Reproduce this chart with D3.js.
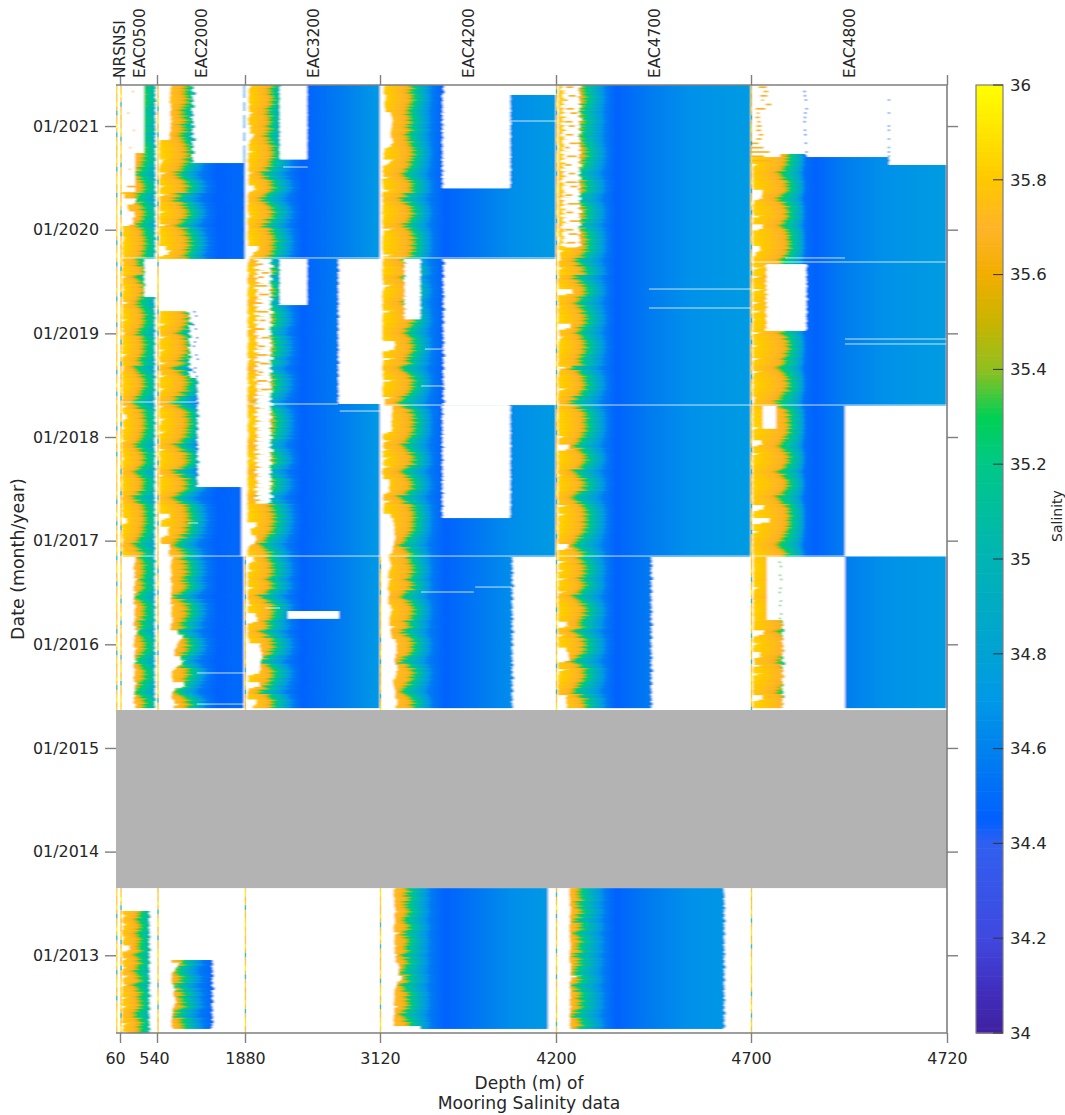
<!DOCTYPE html>
<html><head><meta charset="utf-8">
<script src="https://cdn.jsdelivr.net/npm/d3@7"></script>
<style>html,body{margin:0;padding:0;background:#fff}svg{display:block}text{font-family:"DejaVu Sans",sans-serif;fill:#262626}</style>
</head><body><svg id="c" width="1065" height="1115"></svg>
<script>
// ---------- axis content
const moorNames=["NRSNSI","EAC0500","EAC2000","EAC3200","EAC4200","EAC4700","EAC4800"];
const tickDepth=[60,540,1880,3120,4200,4700,4720];
const tickYears=[2013,2014,2015,2016,2017,2018,2019,2020,2021];
const cbTicks=[34,34.2,34.4,34.6,34.8,35,35.2,35.4,35.6,35.8,36];
// ---------- colour map (salinity -> colour)
const cmapS=[34,34.1,34.2,34.4,34.45,34.6,34.7,34.8,35,35.2,35.3,35.4,35.5,35.6,35.7,35.8,35.9,36];
const cmapC=["#4020a0","#4030c0","#4048e0","#3060f0","#0060ff","#0082ee","#0098e8","#00a2d4","#00b4b4","#00c888","#00d054","#90c020","#c8b400","#f2ae00","#ffb428","#ffc800","#ffe400","#ffff00"];
// ---------- mean salinity profiles per mooring (depth m / salinity)
const depthsP1=[0,44,175,263,336,438,511,540];
const saltP1=[35.84,35.82,35.74,35.66,35.3,35.1,34.95,34.9];
const depthsP2=[0,64,278,490,620,726,855,1025,1300,1880];
const saltP2=[35.84,35.82,35.76,35.66,35.3,35.1,34.85,34.56,34.46,34.5];
const depthsP3=[0,70,300,485,600,716,878,1086,1317,2195,3120];
const saltP3=[35.84,35.82,35.75,35.66,35.3,35.1,34.85,34.56,34.46,34.57,34.72];
const depthsP4=[0,95,358,620,740,860,1030,1240,1551,2386,3100,4200];
const saltP4=[35.84,35.82,35.75,35.66,35.3,35.1,34.85,34.56,34.46,34.56,34.65,34.73];
const depthsP5=[0,72,338,530,660,780,985,1210,1447,2265,3229,4700];
const saltP5=[35.84,35.82,35.75,35.66,35.3,35.1,34.85,34.56,34.46,34.57,34.67,34.73];
const depthsP6=[0,96,457,746,867,1011,1180,1300,1541,2263,3226,4720];
const saltP6=[35.84,35.82,35.75,35.66,35.3,35.1,34.85,34.52,34.46,34.58,34.67,34.74];
// ---------- half-monthly heave of the upper ocean (m), 2021.4 back to 2015.4
const heave=[60,40,80,100,60,-20,-60,10,40,-40,10,-80,-40,20,100,120,110,60,20,-80,
-220,-100,40,90,70,-150,-260,-60,50,100,80,-30,-180,20,90,130,150,140,100,30,
-200,-120,60,100,-240,-90,70,110,90,-60,-180,-40,60,110,120,70,-50,-150,30,90,
110,100,40,-80,-30,-300,-120,40,100,110,60,-60,-200,-350,-160,60,110,130,140,130,
90,30,-100,-230,-60,80,120,100,-40,-280,-100,60,90,50,-120,-320,-150,60,120,140,
150,140,110,60,-40,-160,-300,-120,30,-60,40,90,100,60,-30,80,60,-100,-280,-60,
80,120,100,40,-80,-20,-260,-80,70,110,100,40,-160,-290,-60,90,110,70,-50,-140,
-280,-60,90,120,60];
// same, 2013.65 back to 2012.25
const heaveEarly=[-60,-100,-40,-150,-80,-30,-120,-200,-50,-60,-220,-100,-60,-140,-60,-240,-120,-80,-200,-260,
-120,-80,-300,-160,-60,-100,-60,-40,-200,-280,-100,-40,-80,-120];
const heaveGain=[0,0.35,0.72,0.72,0.72,0.72,0.65];
// short-period streaks on top of the heave (m)
const streak=[40,-30,70,-60,10,90,-80,30,-20,60,-110,20,50,-40,80,-70,0,100,-50,30,-90,60,-10,40,-60,90,-30,10,-80];
// ---------- shallowest valid depth in each half-month row (m)
const gapP1=[0,0,0,0,0,0,0,0,0,0,0,0,0,0,0,0,0,0,0,0,0,0,0,0,0,
50,220,250,100,200,220,180,190,30,20,60,30,20,20,40,
20,30,20,15,80,20,20,60,15,20,120,20,25,20,90,15,20,70,20,15,
30,15,100,20,15,60,20,15,20,20,15,30,15,20,110,20,80,90,20,60,
15,20,70,15,20,15,50,15,15,20,15,15,20,15,15,15,20,15,15,20,
90,100,15,15,15,60,15,20,15,
210,230,190,220,200,240,210,190,230,200,190,220,210,200,230,190,210,260,220,200,190,230,210,200,240,190,220,200,190,230,210,200,220,190,210,230];
const gapP2=[300,270,290,260,280,300,270,290,320,280,300,260,300,
40,30,40,30,160,70,30,200,60,30,150,40,
230,40,50,30,180,30,40,240,30,30,40,30,170,280,230,
0,0,0,0,0,0,0,0,0,0,0,0,
30,60,30,200,30,40,230,30,30,160,40,30,220,30,60,190,
30,30,170,40,30,30,160,30,30,200,60,30,180,30,40,30,170,30,60,30,30,30,150,30,30,
30,40,30,30,30,30,250,250,60,240,220,240,60,260,270,240,
330,300,280,290,310,280,320,300,290,300,280,340,300,290,320,350,280,420,560,520,440,400,360,480,600,500,380,300,320,560,620,360,300,350,480,340];
const gapP3=[120,70,90,60,110,70,200,90,60,140,100,220,160,90,70,200,60,50,80,60,170,70,60,200,260,60,50,70,40,60,180,40,50,60,40,50,60,290,300,180,
100,60,40,80,60,40,120,50,40,90,40,60,40,110,40,50,160,40,60,100,40,50,40,130,60,40,70,40,50,120,40,60,40,80,
40,60,40,120,50,40,60,90,40,50,40,40,110,40,60,40,50,40,40,80,40,40,50,40,60,40,40,250,260,120,240,270,200,60,40,
180,230,60,220,40,70,40,200,50,40,60,150,40,230,280,270,40,60,40,80,330,350,380,400,360,340,380,300,60,320,340,60,40,250,280,160];
const gapP4=[100,70,150,120,90,110,240,280,300,270,260,240,290,310,250,90,70,330,200,50,60,250,40,60,300,40,50,60,50,40,60,40,50,350,70,50,40,40,50,300,
60,50,70,40,50,60,310,80,40,50,60,40,330,50,40,60,40,50,40,340,360,320,50,350,60,40,90,50,370,60,40,50,310,100,
280,300,270,280,260,290,270,50,240,60,200,50,230,60,240,40,60,210,220,200,230,60,270,80,60,240,300,320,340,330,360,350,320,300,280,
200,240,280,220,180,260,200,170,220,200,180,240,300,250,220,210,350,240,260,360,400,380,420,360,340,400,420,380,360,300,340,380,350,420,400,360];
const gapP5=[60,50,40,60,40,50,60,40,50,40,60,50,40,50,60,40,50,40,60,40,50,40,60,40,50,40,60,50,40,60,40,50,40,60,40,120,60,40,150,80,
120,40,190,40,60,30,40,380,420,30,40,60,30,40,30,330,340,60,200,60,40,30,30,60,30,350,60,40,30,30,260,40,30,50,
40,30,50,30,30,30,30,220,40,300,400,30,30,30,40,30,120,30,30,60,30,30,30,300,30,250,30,60,30,40,30,30,280,350,30,
30,240,40,200,30,250,40,30,230,30,60,30,30,40,30,250,300,30,200,30,30,230,280,300,320,30,280,60,30,30,30,30,260,230,250,300];
const gapP6=[0,0,0,0,0,0,0,0,0,0,0,0,0,0,0,0,0,0,
150,30,30,30,30,30,280,250,280,60,30,30,300,30,260,280,30,30,30,200,240,100,
40,30,260,30,220,30,30,300,30,30,200,30,280,30,60,30,30,240,30,30,150,30,30,220,30,30,260,30,30,60,30,30,120,60,
30,30,30,30,30,200,30,30,240,260,30,200,30,30,30,30,30,30,30,30,30,40,30,300,280,30,450,420,30,200,30,30,30,30,30,
60,40,50,60,40,50,40,200,50,40,60,40,50,40,60,50,40,300,280,30,200,30,200,280,60,300,30,250,30,30,30,30,260,280,30,40];
const gapEarlyP1=[0,0,0,0,0,20,90,20,100,30,15,90,20,130,130,20,90,20,100,15,120,30,90,20,15,90,15,80,20,15,15,90,30,90];
const gapEarlyP2=[0,0,0,0,0,0,0,0,0,0,0,0,0,0,0,0,0,500,420,360,300,300,340,400,340,380,420,360,320,320,300,300,320,350];
const gapEarlyP4=[330,310,360,330,350,420,330,360,340,310,450,340,330,380,340,400,360,420,470,430,520,500,400,360,330,350,320,420,330,340,310,320,330,330];
const gapEarlyP5=[320,310,330,320,340,350,320,330,320,310,340,320,330,350,330,320,310,340,350,340,600,350,320,340,330,340,320,360,330,320,330,320,320,330];
// ragged instrument-depth variation at the ends of the records
const edgeJag=[-1,1,0,2,-1,0,3,-2,1,0,-1,2,0,-2,1,4,-1,0,1,-2,2,0,-1,1,3,-1,0,-2,1,0,2,-1];
// ---------- data blocks [fromYear,toYear,depthTop,depthBottom,roughness(m)]
const blocksP1=[[2021.396,2020.74,350,511,6],[2020.74,2020.363,219,511,6],[2020.363,2019.727,15,511,6],
[2019.727,2019.35,15,350,6],[2019.35,2016.851,15,505,6],[2016.851,2015.385,190,505,6],[2013.426,2012.25,15,423,8]];
const blocksP2=[[2021.396,2020.865,256,748,22],[2020.865,2020.643,21,748,22],[2020.643,2019.727,21,1880,0],
[2019.215,2018.569,21,680,22],[2018.569,2017.517,21,855,14],[2017.517,2016.851,21,1800,0],[2016.851,2015.385,256,1850,0],[2012.954,2012.298,300,1175,14]];
const blocksP3=[[2021.396,2019.717,25,3120,0],[2019.717,2018.318,25,2148,10],[2018.318,2015.385,25,3120,0]];
const blocksP4=[[2021.396,2021.299,25,1503,14],[2021.299,2019.717,25,4200,0],[2019.717,2018.308,25,1503,14],[2018.308,2016.851,25,4200,0],[2016.851,2015.385,25,3150,14],[2013.648,2012.32,310,4010,0],[2012.34,2012.298,960,4010,0]];
const blocksP5=[[2021.396,2016.851,25,4700,0],[2016.851,2015.385,25,2290,14],[2013.648,2012.298,313,4050,12]];
const blocksP6=[[2020.73,2020.701,698,1324,0],[2020.701,2020.624,12,3323,0],[2020.624,2018.308,12,4720,0],[2018.308,2016.851,12,2263,0],
[2016.851,2016.234,12,385,0],[2016.234,2015.385,12,750,20],[2016.851,2015.385,2263,4720,0]];
// ---------- holes in the records [fromYear,toYear,depthTop,depthBottom,roughness(m)]
const holesP3=[[2021.396,2020.682,808,1432,8],[2019.717,2019.273,808,1432,8],[2019.717,2017.363,300,570,40],[2016.321,2016.253,993,2171,0]];
const holesP4=[[2021.299,2020.402,1503,3102,14],[2019.717,2019.138,597,954,16],[2018.308,2017.228,1503,3102,14]];
const holesP5=[[2021.396,2019.833,200,540,40]];
const holesP6=[[2019.668,2019.032,385,1324,20],[2018.299,2018.086,289,602,4]];
const holesByPanel=[[],[],[],holesP3,holesP4,holesP5,holesP6];
// ---------- scattered readings [row,depthTop,depthBottom]
const ribbonP3=[[41,260,420],[43,380,560],[44,300,440],[46,240,520],[48,320,560],[50,260,400],[52,300,540],[54,340,480],[56,260,460],[58,380,570],[60,300,470],[62,260,520],[64,340,560],[66,300,420],[68,260,520],[70,360,560]];
const ribbonP5=[[0,240,420],[2,300,480],[3,200,280],[5,240,440],[6,340,520],[8,220,400],[9,300,460],[11,230,420],[13,320,520],[14,220,330],[16,260,500],[18,210,380],[20,300,470],[22,240,500],[23,340,520],[25,220,400],[27,280,540],[29,240,420],[31,330,530],[33,220,420],[34,300,520],[36,260,480]];
const ribbonP6=[[0,180,380],[1,300,420],[2,220,400],[3,250,310],[4,350,500],[5,110,350],[6,140,200],[7,100,220],[8,150,230],[9,130,260],[10,120,250],[11,180,300],[12,130,260],[13,0,190],[14,0,300],[15,0,450],[16,0,320],[17,0,500]];
const ribbonP1=[[1,180,190],[6,110,125],[10,190,200],[14,140,155],[19,130,145],[23,100,220]];
const ribbonsByPanel=[[],ribbonP1,[],ribbonP3,[],ribbonP5,ribbonP6];
// ---------- isolated dots [row,depth,salinity]
const dotsP2=[[52,800,34.45],[53,840,34.45],[55,780,34.45],[56,830,34.45],[58,860,34.45],[59,810,34.45],[60,790,34.45],[62,840,34.45],[63,870,34.45],[65,820,34.45],[66,800,34.45],[67,850,34.45]];
const dotsP6=[[1,1290,34.45],[2,1300,34.45],[3,1320,34.45],[5,1340,34.45],[6,1310,34.45],[7,1300,34.45],[8,1290,34.45],[10,1300,34.45],[11,1310,34.45],[13,1320,34.45],[15,1340,34.45],[16,1330,34.45],
[3,3320,34.62],[6,3320,34.62],[9,3320,34.62],[10,3320,34.62],[12,3320,34.62],[14,3320,34.62],[15,3320,34.62],[16,3320,34.62],[17,3320,34.62],
[110,690,35.35],[111,720,35.35],[113,700,35.35],[114,730,35.35],[116,710,35.35],[117,690,35.35],[119,720,35.35],[120,700,35.35],[122,730,35.35],[123,700,35.35]];
const dotsByPanel=[[],[],dotsP2,[],[],[],dotsP6];
// ---------- thin pale lines [panel,year,depthTop,depthBottom]
const thinLines=[[1,2018.337,15,540],[2,2018.337,21,860],[1,2016.851,15,540],[2,2016.851,21,1880],[3,2016.851,25,3120],[4,2016.851,25,4200],[5,2016.851,25,4700],[6,2016.851,12,4720],
[4,2018.308,25,1503],[5,2018.308,25,4700],[6,2018.308,12,4720],[3,2018.318,25,2148],[6,2019.688,12,4720],[6,2019.727,820,2263],
[2,2015.723,850,1880],[2,2015.423,850,1880],[2,2017.170,660,880],[3,2016.350,460,810],[3,2018.250,2190,3120],[3,2020.604,880,1450],
[4,2021.048,3102,4200],[4,2018.848,1070,1550],[4,2018.492,980,1500],[4,2016.504,980,2240],[4,2016.552,2270,3150],[5,2019.427,2240,4700],[5,2019.244,2240,4700],
[6,2018.945,2263,4720],[6,2018.897,2263,4720],[1,2019.727,15,511],[3,2019.727,25,3120],[4,2019.727,25,4200]];
// ---------- near-surface sensor traces [panel,depth,fromYear,toYear]
const traces=[[0,12,2021.396,2012.25],[1,15,2021.396,2012.25],[2,22,2021.396,2012.25],[3,10,2016.85,2012.25],[4,12,2016.85,2012.25],[5,12,2021.396,2012.25],[6,12,2021.396,2012.25]];
const traceSal=[35.8,35.85,35.7,35.75,35.9,35.65,35.0,35.7,35.8,35.95,35.75,34.95,35.7,35.85,35.65,35.8,35.7,35.9,35.75,35.0,35.7,35.85,35.9,35.65,35.8,34.9,35.75,35.7,35.85,35.9];
const blueTraces=[[2,1850,2021.396,2019.727]];
const blueTraceSal=[34.7,34.85,34.7,36,34.7,34.8,36,34.7,34.85,34.7,36,34.75,34.7,36,34.85];
// ---------- layout
const W=1065,H=1115,L=116,R=947,T=85,B=1033;
const edges=[116,120,157,245,380,556,751,947];
const profD=[null,depthsP1,depthsP2,depthsP3,depthsP4,depthsP5,depthsP6];
const profS=[null,saltP1,saltP2,saltP3,saltP4,saltP5,saltP6];
const blocks=[[],blocksP1,blocksP2,blocksP3,blocksP4,blocksP5,blocksP6];
const gaps=[[],gapP1,gapP2,gapP3,gapP4,gapP5,gapP6];
const gapsEarly=[[],gapEarlyP1,gapEarlyP2,[],gapEarlyP4,gapEarlyP5,[]];
const yTop=2021.396,yBot=2012.25,earlyTop=2013.648,bandBot=2015.366,step=1/24,subN=3;
const y=d3.scaleLinear([yBot,yTop],[B,T]);
const color=d3.scaleLinear(cmapS,cmapC).clamp(true);
const xs=tickDepth.map((m,k)=>d3.scaleLinear([0,m],[edges[k],edges[k+1]]));
const svg=d3.select("#c");
const defs=svg.append("defs");
const f=defs.append("filter").attr("id","soft").attr("filterUnits","userSpaceOnUse")
 .attr("x",100).attr("y",70).attr("width",870).attr("height",980);
f.append("feGaussianBlur").attr("stdDeviation","0.8 0.6");
const rows=[],subRows=[];
d3.range(heave.length).forEach(i=>rows.push({era:"u",i,top:yTop-i*step,bot:yTop-(i+1)*step}));
d3.range(heaveEarly.length).forEach(i=>rows.push({era:"e",i,top:earlyTop-i*step,bot:earlyTop-(i+1)*step}));
rows.forEach(r=>d3.range(subN).forEach(s=>subRows.push({era:r.era,i:r.i,s,n:r.i*subN+s,
 top:r.top-s*step/subN,bot:r.top-(s+1)*step/subN,h:(r.era==="u"?heave:heaveEarly)[r.i]})));
const w=d=>d<800?1:d>1400?0:(1400-d)/600;
const cells=[],grads=new Map(),holesOut=[];
for(let k=1;k<=6;k++){
 subRows.forEach(r=>{
  const gapArr=r.era==="u"?gaps[k]:gapsEarly[k];
  const jag=edgeJag[(r.n+k*5)%edgeJag.length];
  const st=streak[(r.n+k*11)%streak.length];
  const g0=gapArr[r.i]||0,g1=Math.min(g0,gapArr[r.i+1]===undefined?g0:gapArr[r.i+1]);
  const gapHere=(r.s===0?g0:r.s===1?(g0+g1)/2:g1)+(g0>0?Math.abs(st)*0.25:0);
  blocks[k].forEach(b=>{
   const t=Math.min(r.top,b[0]),bt=Math.max(r.bot,b[1]);
   if(t<=bt)return;
   const d0=Math.max(b[2],gapHere),d1=b[3]+jag*b[4];
   if(d1<=d0)return;
   const id=`g${k}${r.era}${r.n}`;
   if(!grads.has(id)){
    const D=profD[k],S=profS[k],shift=(r.h+st)*heaveGain[k],sl=[];
    D.forEach((d,j)=>{
     sl.push({o:d+shift*w(d),s:S[j]});
     if(j<D.length-1&&S[j]>34.8){const dm=(d+D[j+1])/2;sl.push({o:dm+shift*w(dm),s:(S[j]+S[j+1])/2});}
    });
    grads.set(id,{id,k,stops:sl});
   }
   cells.push({k,id,d0,d1,t,bt,ov:bt===r.bot&&bt>b[1]?1.2:0});
  });
  holesByPanel[k].forEach(b=>{
   const t=Math.min(r.top,b[0]),bt=Math.max(r.bot,b[1]);
   if(t<=bt)return;
   const jag2=edgeJag[(r.n+k*3+9)%edgeJag.length];
   holesOut.push({k,d0:b[2]+jag*b[4],d1:b[3]+jag2*b[4]*0.5,t,bt,ov:bt===r.bot&&bt>b[1]?1.2:0});
  });
 });
}
defs.selectAll("linearGradient").data([...grads.values()]).join("linearGradient")
 .attr("id",d=>d.id).attr("gradientUnits","userSpaceOnUse")
 .attr("x1",d=>xs[d.k](0)).attr("x2",d=>xs[d.k](tickDepth[d.k])).attr("y1",0).attr("y2",0)
 .selectAll("stop").data(d=>d.stops.map(s=>({o:s.o/tickDepth[d.k],c:color(s.s)}))).join("stop")
 .attr("offset",d=>Math.max(0,Math.min(1,d.o))).attr("stop-color",d=>d.c);
const field=svg.append("g").attr("filter","url(#soft)");
field.append("rect").attr("x",90).attr("y",60).attr("width",900).attr("height",1000).attr("fill","#fff");
field.append("g").selectAll("rect").data(cells).join("rect")
 .attr("x",d=>xs[d.k](d.d0)).attr("width",d=>xs[d.k](d.d1)-xs[d.k](d.d0))
 .attr("y",d=>y(d.t)).attr("height",d=>y(d.bt)-y(d.t)+d.ov).attr("fill",d=>`url(#${d.id})`);
field.append("g").selectAll("rect").data(holesOut).join("rect")
 .attr("x",d=>xs[d.k](d.d0)).attr("width",d=>xs[d.k](d.d1)-xs[d.k](d.d0))
 .attr("y",d=>y(d.t)).attr("height",d=>y(d.bt)-y(d.t)+d.ov).attr("fill","#fff");
// scattered readings
const rowY=i=>y(yTop-(i+0.5)*step);
const ribbons=ribbonsByPanel.flatMap((a,k)=>a.map(r=>({k,i:r[0],d0:r[1],d1:r[2]})));
field.append("g").selectAll("rect").data(ribbons).join("rect")
 .attr("x",d=>xs[d.k](d.d0)).attr("width",d=>Math.max(1.5,xs[d.k](d.d1)-xs[d.k](d.d0)))
 .attr("y",d=>rowY(d.i)-0.8).attr("height",1.7).attr("fill",color(35.68));
const dots=dotsByPanel.flatMap((a,k)=>a.map(r=>({k,i:r[0],d:r[1],s:r[2]})));
field.append("g").selectAll("circle").data(dots).join("circle")
 .attr("cx",d=>xs[d.k](d.d)).attr("cy",d=>rowY(d.i)).attr("r",1).attr("fill",d=>color(d.s));
const blueCells=[];
blueTraces.forEach(t=>rows.forEach(r=>{
 const a=Math.min(r.top,t[2]),b=Math.max(r.bot,t[3]);
 if(a>b&&blueTraceSal[r.i%blueTraceSal.length]<36)blueCells.push({k:t[0],d:t[1],a,b,s:blueTraceSal[r.i%blueTraceSal.length]});
}));
field.append("g").selectAll("rect").data(blueCells).join("rect")
 .attr("x",d=>xs[d.k](d.d)).attr("width",1.5).attr("y",d=>y(d.a)).attr("height",d=>y(d.b)-y(d.a)).attr("fill",d=>color(d.s));
// surface traces
const traceCells=[];
traces.forEach((t,n)=>rows.forEach(r=>{
 const a=Math.min(r.top,t[2]),b=Math.max(r.bot,t[3]);
 if(a>b&&!(r.top<=bandBot&&r.top>earlyTop))traceCells.push({k:t[0],d:t[1],a,b,s:traceSal[(r.i+n*7)%traceSal.length]});
}));
svg.append("g").attr("opacity",0.8).selectAll("rect").data(traceCells).join("rect")
 .attr("x",d=>xs[d.k](d.d)-0.7).attr("width",1.4).attr("y",d=>y(d.a)).attr("height",d=>y(d.b)-y(d.a)+0.3).attr("fill",d=>color(d.s));
// thin pale lines
svg.append("g").selectAll("rect").data(thinLines).join("rect")
 .attr("x",d=>xs[d[0]](d[2])).attr("width",d=>xs[d[0]](d[3])-xs[d[0]](d[2]))
 .attr("y",d=>y(d[1])-0.7).attr("height",1.3).attr("fill","#fff").attr("fill-opacity",0.6);
// gray missing-data band
svg.append("rect").attr("x",L).attr("width",R-L).attr("y",y(bandBot)).attr("height",y(earlyTop)-y(bandBot)).attr("fill","#b3b3b3");
// axes
const axisGray="#7f7f7f";
const yearLabel=d=>"01/"+d;
const gl=svg.append("g").attr("transform",`translate(${L},0)`).call(d3.axisLeft(y).tickValues(tickYears).tickFormat(yearLabel).tickSize(11).tickPadding(6));
const gr=svg.append("g").attr("transform",`translate(${R},0)`).call(d3.axisRight(y).tickValues(tickYears).tickFormat("").tickSize(11));
const xTick=d3.scaleOrdinal(tickDepth,edges.slice(1));
const gb=svg.append("g").attr("transform",`translate(0,${B})`).call(d3.axisBottom(xTick).tickValues(tickDepth).tickSize(10).tickPadding(8));
const gt=svg.append("g").attr("transform",`translate(0,${T})`).call(d3.axisTop(xTick).tickValues(tickDepth).tickFormat("").tickSize(10));
[gl,gr,gb,gt].forEach(g=>{g.select(".domain").remove();g.selectAll("line").attr("stroke",axisGray).attr("stroke-width",1.4);g.selectAll("text").style("font-size","15.9px").attr("fill","#262626").style("font-family",'"DejaVu Sans",sans-serif');});
gb.selectAll("text").attr("dx",d=>d===60?-5:d===540?-3:0).attr("dy","0.8em");
const frame=d3.path();frame.moveTo(L,T);frame.lineTo(R,T);frame.lineTo(R,B);frame.lineTo(L,B);
svg.append("path").attr("d",frame.toString()).attr("fill","none").attr("stroke",axisGray).attr("stroke-width",1.6);
// mooring names
svg.append("g").selectAll("text").data(moorNames).join("text")
 .attr("transform",(d,k)=>`translate(${k===0?119:(edges[k]+edges[k+1])/2+0.5},78) rotate(-90)`)
 .attr("dy","0.36em").style("font-size","15.4px").text(d=>d);
// axis titles
svg.append("text").attr("transform","translate(18,559) rotate(-90)").attr("text-anchor","middle").attr("dy","0.35em").style("font-size","17.4px").text("Date (month/year)");
svg.append("text").attr("x",529).attr("y",1089).attr("text-anchor","middle").style("font-size","17px").text("Depth (m) of");
svg.append("text").attr("x",529).attr("y",1109).attr("text-anchor","middle").style("font-size","17.2px").text("Mooring Salinity data");
// colour bar
const cbY=d3.scaleLinear([34,36],[B,T]);
const cbCells=d3.range(0,200).map(n=>34+n*0.01);
const cb=svg.append("g");
cb.selectAll("rect").data(cbCells).join("rect").attr("x",976).attr("width",27)
 .attr("y",d=>cbY(d+0.01)).attr("height",d=>cbY(d)-cbY(d+0.01)+0.6).attr("fill",d=>color(d+0.005));
cb.append("rect").attr("x",976).attr("y",T).attr("width",27).attr("height",B-T).attr("fill","none").attr("stroke",axisGray).attr("stroke-width",1.2);
const gc=svg.append("g").attr("transform","translate(1003,0)").call(d3.axisRight(cbY).tickValues(cbTicks).tickFormat(d=>String(+d.toFixed(1))).tickSize(0).tickPadding(7));
gc.select(".domain").remove();
gc.selectAll("text").style("font-size","16.5px").style("font-family",'"DejaVu Sans",sans-serif').attr("fill","#262626");
cb.selectAll("line").data(cbTicks).join("line").attr("x1",993).attr("x2",1003).attr("y1",d=>cbY(d)).attr("y2",d=>cbY(d)).attr("stroke","#333").attr("stroke-width",1);
svg.append("text").attr("transform","translate(1057,516) rotate(-90)").attr("text-anchor","middle").attr("dy","0.35em").style("font-size","14px").text("Salinity");
</script></body></html>
